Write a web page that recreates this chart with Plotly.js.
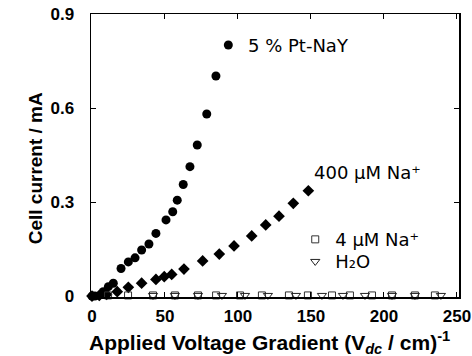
<!DOCTYPE html>
<html>
<head>
<meta charset="utf-8">
<script src="https://cdn.plot.ly/plotly-3.0.1.min.js"></script>
<style>html,body{margin:0;padding:0;background:#fff;}#chart{width:472px;height:356px;}</style>
</head>
<body>
<div id="chart"></div>
<script>
// 5 % Pt-NaY (filled circles)
const ptX = [0, 2, 7.7, 11.2, 14.6, 19.9, 24.9, 29.5, 34, 39, 43.8, 50.7, 55.3, 58.4, 62.5, 67.1, 72.1, 78.6, 84.9, 93.4];
const ptY = [0, 0, 0.014, 0.030, 0.041, 0.088, 0.109, 0.122, 0.147, 0.166, 0.200, 0.243, 0.269, 0.306, 0.356, 0.413, 0.482, 0.581, 0.702, 0.801];
// 400 uM Na+ (filled diamonds)
const naHiX = [0, 5, 10, 17.3, 24.9, 34, 43.8, 49.5, 54.6, 63, 75.8, 87.2, 97.3, 109.4, 119, 128.1, 137.9, 148.2];
const naHiY = [0, 0.002, 0.005, 0.014, 0.028, 0.041, 0.053, 0.062, 0.069, 0.086, 0.112, 0.134, 0.160, 0.192, 0.227, 0.255, 0.296, 0.336];
// 4 uM Na+ (open squares)
const naLoX = [11, 24.7, 41.8, 56.8, 72.6, 85, 101.4, 116.4, 134.9, 147.9, 164.4, 176.7, 191.8, 205.5, 221.2, 234.9];
const naLoY = [0.002, 0.002, 0.002, 0.002, 0.002, 0.002, 0.002, 0.002, 0.002, 0.002, 0.002, 0.002, 0.002, 0.002, 0.002, 0.002];
// H2O (open down triangles)
const h2oX = [41.8, 56.8, 72.6, 89, 104.8, 120.5, 139.7, 157.5, 171.9, 187, 205.5, 221.2, 239];
const h2oY = [0.002, 0.002, 0.002, 0.002, 0.002, 0.002, 0.002, 0.002, 0.002, 0.002, 0.002, 0.002, 0.002];

const xTicks = [0, 50, 100, 150, 200, 250];
const yTicks = [0, 0.3, 0.6, 0.9];
const yTickText = ['0', '0.3', '0.6', '0.9'];

const traces = [
  {x: ptX, y: ptY, mode: 'markers', type: 'scatter', name: '5 % Pt-NaY', showlegend: false, cliponaxis: false,
   marker: {symbol: 'circle', size: 9, color: '#000'}},
  {x: naHiX, y: naHiY, mode: 'markers', type: 'scatter', name: '400 µM Na⁺', showlegend: false, cliponaxis: false,
   marker: {symbol: 'diamond', size: 9, color: '#000'}},
  {x: naLoX, y: naLoY, mode: 'markers', type: 'scatter', name: '4 µM Na⁺', cliponaxis: false, legend: 'legend',
   marker: {symbol: 'square-open', size: 7, color: '#333', line: {width: 1}}},
  {x: h2oX, y: h2oY, mode: 'markers', type: 'scatter', name: 'H₂O', cliponaxis: false, legend: 'legend2',
   marker: {symbol: 'triangle-down-open', size: 8, color: '#222', line: {width: 1}}}
];

const boldFam = 'Liberation Sans, Arial, sans-serif';
const tickFont = {family: boldFam, size: 17, color: '#000', weight: 'bold'};
const annFont = {family: 'DejaVu Sans, sans-serif', size: 18, color: '#000'};

const layout = {
  width: 472, height: 356,
  margin: {l: 91, r: 13, t: 14, b: 59},
  paper_bgcolor: '#fff', plot_bgcolor: '#fff',
  showlegend: true,
  legend: {x: 0.555, y: 0.268, xanchor: 'left', yanchor: 'top', font: annFont, bgcolor: 'rgba(0,0,0,0)'},
  legend2: {x: 0.555, y: 0.19, xanchor: 'left', yanchor: 'top', font: annFont, bgcolor: 'rgba(0,0,0,0)'},
  xaxis: {
    range: [-0.68, 251.4], tickvals: xTicks, ticks: 'inside', ticklen: 5, tickwidth: 1, tickcolor: '#000',
    showline: true, linecolor: '#000', linewidth: 1.5, mirror: 'ticks', showgrid: false, zeroline: false,
    tickfont: tickFont, ticklabelstandoff: 3
  },
  yaxis: {
    range: [-0.003, 0.9], tickvals: yTicks, ticktext: yTickText, ticks: 'inside', ticklen: 5, tickwidth: 1, tickcolor: '#000',
    showline: true, linecolor: '#000', linewidth: 1.5, mirror: 'ticks', showgrid: false, zeroline: false,
    tickfont: tickFont, ticklabelstandoff: 12
  },
  annotations: [
    {x: 0.484, y: -0.162, xref: 'paper', yref: 'paper', text: 'Applied Voltage Gradient (V<sub><i>dc</i></sub> / cm)<sup>-1</sup>',
     showarrow: false, xanchor: 'center', yanchor: 'middle', font: {family: boldFam, size: 21, color: '#000', weight: 'bold'}},
    {x: -0.152, y: 0.455, xref: 'paper', yref: 'paper', text: 'Cell current / mA', textangle: -90, showarrow: false,
     xanchor: 'center', yanchor: 'middle', font: {family: boldFam, size: 19, color: '#000', weight: 'bold'}},
    {x: 105.5, y: 0.801, xref: 'x', yref: 'y', text: '5 % Pt-NaY', showarrow: false, xanchor: 'left', yanchor: 'middle', font: annFont},
    {x: 150.7, y: 0.393, xref: 'x', yref: 'y', text: '400 µM Na⁺', showarrow: false, xanchor: 'left', yanchor: 'middle', font: annFont}
  ]
};

Plotly.newPlot('chart', traces, layout, {staticPlot: true, displayModeBar: false});
</script>
</body>
</html>
